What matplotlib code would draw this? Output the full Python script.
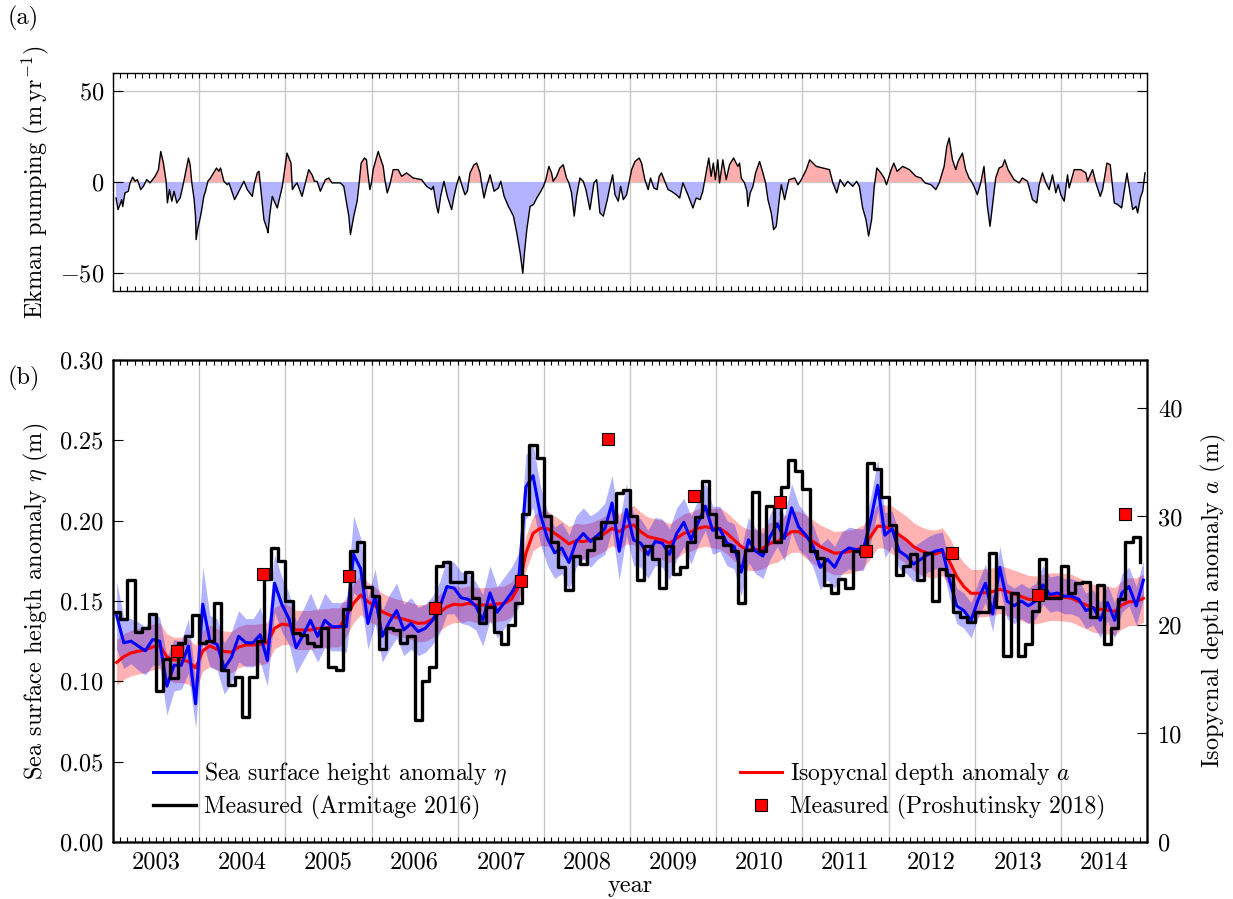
import numpy as np
import matplotlib
matplotlib.use("Agg")
import matplotlib.pyplot as plt

plt.rcParams.update({
    "font.family": "serif",
    "font.serif": ["cmr10"],
    "mathtext.fontset": "cm",
    "axes.formatter.use_mathtext": True,
    "font.size": 17.5,
    "axes.linewidth": 1.0,
})

# ---------------- data ----------------
years = list(range(2003, 2015))
year_labels = [str(y) for y in years]

# Ekman pumping (m/yr): (month within year, value)
ekman_2003 = [(0.42,-8.8),(0.70,-15.2),(0.98,-12.4),(1.21,-9.7),(1.35,-13.5),(1.67,-6.0),(2.14,-5.1),(2.37,-0.5),(2.74,2.7),(3.07,0.4),(3.40,1.3),(3.86,-4.2),(4.23,-2.4),(4.70,1.3),(5.16,-0.5),(5.86,3.1),(6.33,6.8),(6.65,16.8),(7.02,10.4),(7.40,0.4),(7.58,-11.5),(7.86,-4.2),(8.19,-10.6),(8.51,-5.1),(8.88,-11.5),(9.35,-8.8),(9.72,-2.4),(10.19,6.8),(10.51,13.2),(10.74,9.5),(10.98,-0.5),(11.30,-9.7),(11.49,-18.8),(11.58,-31.7),(11.77,-26.3)]
ekman_2004 = [(0.09,-20.7),(0.28,-17.0),(0.65,-7.9),(0.88,-5.1),(1.21,0.4),(1.58,2.2),(2.42,7.7),(2.74,5.9),(2.98,7.7),(3.44,0.4),(3.91,-1.5),(4.14,-0.5),(4.47,-4.2),(4.93,-9.7),(5.30,-7.0),(6.00,-1.5),(6.23,0.4),(6.70,-4.2),(7.40,-7.9),(7.72,-0.5),(8.09,5.0),(8.33,5.9),(8.79,-11.5),(9.02,-20.7),(9.49,-26.2),(9.58,-28.0),(9.86,-17.0),(10.19,-7.9),(10.56,-11.5),(10.88,-14.3),(11.26,-7.9),(11.58,-2.4),(11.91,6.8)]
ekman_2005 = [(0.23,15.9),(0.60,12.2),(0.79,10.4),(0.98,-4.2),(1.26,-2.4),(1.63,-0.5),(2.33,-7.9),(2.79,-0.5),(3.26,6.8),(3.72,4.0),(4.05,0.4),(4.42,0.4),(4.88,-5.1),(5.58,1.3),(6.05,2.2),(6.51,-0.5),(7.67,-0.5),(8.14,-2.4),(8.60,-13.4),(8.84,-18.8),(9.07,-28.9),(9.53,-18.8),(10.00,-10.6),(10.23,-2.4),(10.56,10.4),(11.02,13.2),(11.30,12.2),(11.49,4.9),(11.77,-4.2)]
ekman_2006 = [(0.00,-0.5),(0.23,6.8),(0.93,16.8),(1.16,14.1),(1.63,8.6),(1.86,1.3),(2.19,-6.0),(2.56,-1.5),(3.02,6.8),(3.72,6.8),(4.19,3.1),(4.88,5.0),(5.81,2.2),(6.98,1.3),(7.67,-2.4),(8.37,-4.2),(8.60,-2.4),(9.07,-13.4),(9.30,-17.0),(9.63,-7.9),(10.09,0.4),(10.56,-7.9),(11.16,-15.2),(11.49,-7.9),(11.86,-1.5)]
ekman_2007 = [(0.23,3.1),(0.56,-1.5),(1.02,-7.0),(1.35,-5.1),(1.72,5.0),(2.28,9.5),(2.65,10.4),(3.12,5.0),(3.35,-1.5),(3.67,-8.8),(4.05,-2.4),(4.51,4.0),(5.07,-5.1),(5.67,-3.3),(6.00,0.4),(6.47,-7.9),(7.07,-13.4),(7.77,-18.8),(8.23,-28.0),(8.70,-39.0),(9.07,-50.3),(9.30,-39.0),(9.63,-26.2),(10.09,-13.4),(10.56,-12.4),(11.02,-8.8),(11.58,-5.1),(11.95,-2.4)]
ekman_2008 = [(0.28,1.3),(0.70,8.6),(1.07,5.0),(1.30,0.4),(1.77,3.1),(2.23,7.7),(2.70,9.5),(3.16,2.2),(3.49,-0.5),(3.86,-6.0),(4.23,-18.8),(4.56,-7.9),(5.02,2.2),(5.49,0.4),(5.86,-4.2),(6.42,-15.2),(6.98,-0.5),(7.35,1.3),(7.81,-17.0),(8.28,-18.8),(8.84,-9.7),(9.21,-2.4),(9.58,4.0),(9.91,-7.0),(10.37,-10.6),(10.70,-2.4),(11.07,-9.7),(11.53,-7.0),(11.91,0.4)]
ekman_2009 = [(0.23,6.8),(0.69,11.3),(1.29,13.2),(1.61,10.4),(2.07,1.3),(2.53,-4.2),(2.86,2.2),(3.32,-3.3),(3.78,-4.2),(4.06,3.1),(4.38,5.0),(4.84,0.4),(5.30,-4.2),(5.76,-5.1),(6.45,-7.0),(6.92,-8.8),(7.37,-0.5),(8.06,-7.0),(8.76,-14.3),(9.22,-8.8),(9.77,-9.7),(10.14,-5.1),(10.51,3.1),(10.97,13.2),(11.29,3.1),(11.61,10.4),(11.89,1.3)]
ekman_2010 = [(0.23,12.2),(0.47,-0.5),(0.93,12.2),(1.40,1.3),(1.86,9.5),(2.42,13.2),(3.02,8.6),(3.26,10.4),(3.49,2.2),(3.95,-0.5),(4.28,-5.1),(4.42,-13.4),(4.74,-6.0),(5.12,-2.4),(5.49,5.0),(6.05,11.3),(6.51,5.0),(6.88,-0.5),(7.21,-9.7),(7.67,-17.0),(8.00,-26.2),(8.37,-24.4),(8.84,-7.9),(9.07,-1.5),(9.53,-9.7),(10.14,1.3),(10.93,2.2),(11.40,-1.5),(11.86,1.3)]
ekman_2011 = [(0.55,6.8),(1.02,12.2),(1.48,10.4),(1.94,8.6),(2.86,7.7),(3.78,6.8),(4.25,-0.5),(4.80,-6.0),(5.26,1.3),(5.86,-2.4),(6.32,0.4),(7.02,-2.4),(7.57,0.4),(7.94,-2.4),(8.40,-14.3),(8.86,-20.7),(9.23,-29.8),(9.65,-20.7),(10.02,-2.4),(10.38,7.7),(10.94,5.0),(11.40,2.2),(11.72,-1.5)]
ekman_2012 = [(0.37,6.8),(0.74,10.4),(1.20,5.9),(1.98,8.6),(2.91,6.8),(3.83,3.1),(4.52,2.2),(5.08,-0.5),(5.91,-1.5),(6.60,-4.2),(7.06,-0.5),(7.75,8.6),(8.12,19.6),(8.45,24.2),(8.91,12.2),(9.37,6.8),(9.69,11.3),(10.29,15.9),(10.75,6.8),(11.22,2.2),(11.54,0.4),(11.91,-2.4)]
ekman_2013 = [(0.37,-7.0),(0.84,-0.5),(1.30,8.6),(1.77,-13.4),(2.14,-24.4),(2.47,-13.4),(2.93,2.2),(3.40,7.7),(3.86,8.6),(4.19,12.2),(4.65,6.8),(5.49,1.3),(6.19,-0.5),(6.65,2.2),(7.35,0.4),(8.05,-9.7),(8.65,-11.5),(8.98,-1.5),(9.44,5.0),(9.91,-0.5),(10.37,-4.2),(10.84,4.0),(11.30,-6.0),(11.63,-1.5)]
ekman_2014 = [(0.00,-7.0),(0.47,-10.6),(0.93,4.0),(1.16,-3.3),(1.86,6.8),(2.79,6.8),(3.49,5.0),(3.72,0.4),(4.42,6.8),(4.88,-0.5),(5.49,-7.9),(5.81,-4.2),(6.42,10.4),(6.88,9.5),(7.44,-11.5),(7.91,-12.4),(8.47,-14.3),(9.21,4.9),(10.00,-15.2),(10.47,-13.4),(10.70,-17.0),(11.07,-8.8),(11.40,-5.1),(11.72,5.0)]

# Monthly sea surface height anomaly eta (m), Jan 2003 - Dec 2014
ssh_eta = [
    0.141, 0.124, 0.125, 0.122, 0.119, 0.126, 0.125, 0.097, 0.110, 0.110, 0.122, 0.086,
    0.148, 0.125, 0.123, 0.108, 0.115, 0.128, 0.124, 0.124, 0.129, 0.113, 0.161, 0.148,
    0.139, 0.121, 0.129, 0.138, 0.128, 0.138, 0.134, 0.134, 0.134, 0.179, 0.170, 0.136,
    0.153, 0.128, 0.137, 0.144, 0.132, 0.136, 0.131, 0.133, 0.138, 0.146, 0.159, 0.158,
    0.152, 0.151, 0.147, 0.138, 0.155, 0.143, 0.149, 0.155, 0.163, 0.221, 0.228, 0.204,
    0.189, 0.180, 0.183, 0.174, 0.187, 0.192, 0.187, 0.191, 0.195, 0.211, 0.181, 0.207,
    0.188, 0.186, 0.179, 0.187, 0.186, 0.179, 0.192, 0.199, 0.188, 0.199, 0.209, 0.194,
    0.195, 0.186, 0.184, 0.168, 0.188, 0.181, 0.178, 0.190, 0.198, 0.189, 0.208, 0.196,
    0.191, 0.184, 0.171, 0.176, 0.171, 0.180, 0.183, 0.182, 0.182, 0.200, 0.222, 0.191,
    0.195, 0.181, 0.178, 0.173, 0.176, 0.179, 0.181, 0.182, 0.163, 0.147, 0.144, 0.138,
    0.151, 0.161, 0.142, 0.171, 0.150, 0.147, 0.150, 0.147, 0.150, 0.160, 0.154, 0.155,
    0.153, 0.153, 0.151, 0.144, 0.146, 0.138, 0.149, 0.138, 0.155, 0.159, 0.147, 0.163,
]
ssh_halfwidth = [
    0.021, 0.016, 0.014, 0.015, 0.015, 0.016, 0.015, 0.018, 0.016, 0.015, 0.017, 0.015,
    0.023, 0.016, 0.016, 0.016, 0.016, 0.016, 0.015, 0.015, 0.017, 0.016, 0.018, 0.017,
    0.016, 0.016, 0.016, 0.017, 0.016, 0.017, 0.015, 0.015, 0.016, 0.024, 0.019, 0.016,
    0.017, 0.016, 0.017, 0.017, 0.016, 0.016, 0.015, 0.015, 0.015, 0.016, 0.017, 0.016,
    0.016, 0.016, 0.015, 0.016, 0.017, 0.016, 0.016, 0.016, 0.017, 0.020, 0.020, 0.018,
    0.017, 0.016, 0.016, 0.017, 0.016, 0.016, 0.016, 0.015, 0.016, 0.017, 0.018, 0.016,
    0.016, 0.015, 0.015, 0.015, 0.015, 0.016, 0.016, 0.015, 0.015, 0.014, 0.015, 0.015,
    0.014, 0.014, 0.014, 0.015, 0.014, 0.014, 0.014, 0.014, 0.014, 0.014, 0.015, 0.014,
    0.013, 0.013, 0.014, 0.013, 0.013, 0.013, 0.013, 0.013, 0.013, 0.014, 0.016, 0.014,
    0.011, 0.011, 0.011, 0.011, 0.011, 0.011, 0.011, 0.011, 0.011, 0.011, 0.011, 0.011,
    0.011, 0.012, 0.011, 0.013, 0.011, 0.011, 0.011, 0.011, 0.011, 0.012, 0.011, 0.011,
    0.011, 0.011, 0.011, 0.011, 0.011, 0.011, 0.011, 0.011, 0.012, 0.012, 0.012, 0.012,
]
# Measured (Armitage 2016), monthly steps starting at each month (m)
armitage_eta = [
    0.143, 0.139, 0.163, 0.131, 0.133, 0.142, 0.094, 0.114, 0.102, 0.124, 0.128, 0.141,
    0.124, 0.125, 0.149, 0.107, 0.098, 0.103, 0.078, 0.103, 0.125, 0.164, 0.183, 0.175,
    0.150, 0.130, 0.129, 0.124, 0.122, 0.133, 0.109, 0.107, 0.145, 0.181, 0.187, 0.159,
    0.153, 0.120, 0.133, 0.132, 0.124, 0.128, 0.076, 0.100, 0.109, 0.172, 0.174, 0.162,
    0.162, 0.168, 0.152, 0.136, 0.146, 0.131, 0.123, 0.135, 0.149, 0.204, 0.247, 0.239,
    0.203, 0.187, 0.171, 0.157, 0.178, 0.173, 0.182, 0.189, 0.199, 0.199, 0.217, 0.219,
    0.203, 0.163, 0.184, 0.176, 0.158, 0.184, 0.167, 0.171, 0.187, 0.202, 0.225, 0.204,
    0.190, 0.185, 0.181, 0.149, 0.182, 0.218, 0.181, 0.209, 0.187, 0.221, 0.238, 0.231,
    0.220, 0.181, 0.177, 0.160, 0.155, 0.164, 0.158, 0.181, 0.179, 0.236, 0.232, 0.215,
    0.197, 0.166, 0.172, 0.179, 0.163, 0.180, 0.150, 0.170, 0.166, 0.143, 0.140, 0.137,
    0.143, 0.143, 0.180, 0.146, 0.116, 0.155, 0.116, 0.123, 0.144, 0.176, 0.152, 0.152,
    0.172, 0.155, 0.161, 0.162, 0.140, 0.160, 0.123, 0.133, 0.151, 0.187, 0.190, 0.174,
]
# Isopycnal depth anomaly a (m), monthly
isopycnal_a = [
    16.55, 17.08, 17.42, 17.58, 17.70, 17.97, 18.11, 17.08, 16.77, 16.80, 16.63, 16.05,
    17.62, 18.08, 17.74, 17.55, 17.50, 17.97, 18.16, 18.16, 18.23, 18.38, 19.70, 20.08,
    20.00, 19.54, 19.54, 19.54, 19.69, 19.69, 19.78, 19.78, 20.77, 22.00, 22.76, 22.15,
    21.77, 21.23, 20.92, 20.69, 20.54, 20.35, 20.15, 20.20, 20.54, 21.15, 21.66, 21.92,
    21.84, 22.00, 21.84, 21.84, 21.84, 21.94, 22.00, 22.37, 23.53, 26.60, 28.45, 28.91,
    28.88, 28.45, 27.99, 27.47, 27.77, 27.68, 27.83, 28.08, 28.45, 28.91, 28.60, 29.06,
    29.22, 28.60, 28.14, 27.99, 27.83, 27.53, 27.99, 28.45, 28.60, 28.91, 29.06, 28.91,
    28.91, 28.45, 27.83, 27.22, 26.91, 26.91, 27.07, 27.53, 27.68, 28.14, 28.60, 28.60,
    28.14, 27.68, 27.22, 26.91, 26.61, 26.67, 26.76, 26.91, 27.22, 28.14, 29.12, 29.06,
    28.76, 28.29, 27.83, 27.22, 26.85, 26.61, 26.54, 26.76, 25.84, 24.46, 23.53, 22.92,
    22.92, 22.98, 23.07, 23.29, 23.07, 22.86, 22.61, 22.37, 22.30, 22.46, 22.61, 22.61,
    22.55, 22.46, 22.15, 21.84, 21.54, 21.45, 21.38, 21.23, 21.84, 22.15, 22.15, 22.46,
]
isopycnal_halfwidth = [
    2.1, 2.1, 2.1, 2.1, 2.1, 2.1, 2.1, 2.1, 2.1, 2.1, 2.1, 2.1,
    1.9, 1.9, 1.9, 1.9, 1.9, 1.9, 1.9, 1.9, 1.9, 1.9, 1.9, 1.9,
    1.8, 1.8, 1.8, 1.8, 1.8, 1.8, 1.8, 1.8, 1.8, 1.8, 1.8, 1.8,
    1.7, 1.7, 1.7, 1.7, 1.7, 1.7, 1.7, 1.7, 1.7, 1.7, 1.7, 1.7,
    1.6, 1.6, 1.6, 1.6, 1.6, 1.6, 1.6, 1.6, 1.6, 1.6, 1.6, 1.6,
    1.6, 1.6, 1.6, 1.6, 1.6, 1.6, 1.6, 1.6, 1.6, 1.6, 1.6, 1.6,
    1.8, 1.8, 1.8, 1.8, 1.8, 1.8, 1.8, 1.8, 1.8, 1.8, 1.8, 1.8,
    1.9, 1.9, 1.9, 1.9, 1.9, 1.9, 1.9, 1.9, 1.9, 1.9, 1.9, 1.9,
    2.0, 2.0, 2.0, 2.0, 2.0, 2.0, 2.0, 2.0, 2.0, 2.0, 2.0, 2.0,
    2.2, 2.2, 2.2, 2.2, 2.2, 2.2, 2.2, 2.2, 2.2, 2.2, 2.2, 2.2,
    2.2, 2.2, 2.2, 2.2, 2.2, 2.2, 2.2, 2.2, 2.2, 2.2, 2.2, 2.2,
    2.2, 2.2, 2.2, 2.2, 2.2, 2.2, 2.2, 2.2, 2.2, 2.2, 2.2, 2.2,
]
# Measured (Proshutinsky 2018)
prosh_time = [2003.74, 2004.74, 2005.74, 2006.74, 2007.74, 2008.74,
              2009.74, 2010.74, 2011.74, 2012.74, 2013.74, 2014.74]
prosh_a = [17.6, 24.7, 24.5, 21.6, 24.05, 37.1, 31.9, 31.3, 26.8, 26.6, 22.8, 30.2]

# ---------------- derived ----------------
ekman_sets = [(2003, ekman_2003), (2004, ekman_2004), (2005, ekman_2005), (2006, ekman_2006),
              (2007, ekman_2007), (2008, ekman_2008), (2009, ekman_2009), (2010, ekman_2010),
              (2011, ekman_2011), (2012, ekman_2012), (2013, ekman_2013), (2014, ekman_2014)]
t_ek = np.array([yr + m / 12.0 for yr, s in ekman_sets for m, v in s])
v_ek = np.array([v for yr, s in ekman_sets for m, v in s])

n = len(ssh_eta)
t_mid = 2003 + (np.arange(n) + 0.5) / 12.0
t_start = 2003 + np.arange(n) / 12.0
eta = np.array(ssh_eta)
eta_hw = np.array(ssh_halfwidth)
a_val = np.array(isopycnal_a)
a_hw = np.array(isopycnal_halfwidth)

month_ticks = 2003 + np.arange(0, 145) / 12.0
year_bounds = list(range(2004, 2015))
GRID = "#c8c8c8"
XMIN, XMAX = 2003, 2015
A_TOP = 44.42

# ---------------- figure ----------------
fig = plt.figure(figsize=(12.33, 8.99), dpi=100)
L, W = 113 / 1233, 1034 / 1233
axa = fig.add_axes([L, (899 - 291) / 899, W, 218 / 899])
axb = fig.add_axes([L, (899 - 842) / 899, W, 482 / 899])

# ---- panel (a)
axa.set_xlim(XMIN, XMAX)
axa.set_ylim(-60, 60)
for yb in year_bounds:
    axa.axvline(yb, color=GRID, lw=1.0, zorder=0)
for yv in (-50, 0, 50):
    axa.axhline(yv, color=GRID, lw=1.0, zorder=0)
axa.fill_between(t_ek, v_ek, 0, where=v_ek >= 0, interpolate=True,
                 facecolor=(1.0, 0.68, 0.68), lw=0, zorder=1)
axa.fill_between(t_ek, v_ek, 0, where=v_ek <= 0, interpolate=True,
                 facecolor=(0.7, 0.7, 1.0), lw=0, zorder=1)
axa.plot(t_ek, v_ek, color="black", lw=1.0, zorder=2)
axa.set_yticks([-50, 0, 50])
axa.set_yticklabels(["$-50$", "$0$", "$50$"])
axa.set_xticks(month_ticks)
axa.tick_params(axis="x", which="both", direction="in", top=True, bottom=True,
                length=3.5, width=0.8, labelbottom=False)
axa.tick_params(axis="y", direction="in", left=True, right=True, length=7, width=0.8, pad=6)
axa.set_ylabel(r"Ekman pumping ($\mathrm{m\,yr^{-1}}$)")
axa.yaxis.set_label_coords(-0.060, 0.5)

# ---- panel (b): layered axes sharing x
ax_rbg = axb.twinx()
ax_rfg = axb.twinx()
ax_eta = axb.twinx()
ax_sq = axb.twinx()
for z, ax in enumerate([ax_rbg, axb, ax_rfg, ax_eta, ax_sq]):
    ax.set_zorder(z + 1)
    ax.patch.set_visible(False)

axb.set_xlim(XMIN, XMAX)
for ax in (axb, ax_eta):
    ax.set_ylim(0, 0.30)
for ax in (ax_rbg, ax_rfg, ax_sq):
    ax.set_ylim(0, A_TOP)

for yb in year_bounds:
    ax_rbg.axvline(yb, color=GRID, lw=1.0, zorder=0)

ax_rbg.fill_between(t_mid, a_val - a_hw, a_val + a_hw, color="red", alpha=0.3, lw=0)
axb.fill_between(t_mid, eta - eta_hw, eta + eta_hw, color="blue", alpha=0.3, lw=0)
h_red, = ax_rfg.plot(t_mid, a_val, color="red", lw=2.2)
h_blue, = ax_eta.plot(t_mid, eta, color="blue", lw=2.2, zorder=2)
h_black, = ax_eta.step(t_start, armitage_eta, where="post", color="black", lw=2.4, zorder=3)
h_sq, = ax_sq.plot(prosh_time, prosh_a, ls="none", marker="s", ms=8,
                   mfc="red", mec="black", mew=0.8)

for ax in (ax_rbg, ax_rfg, ax_eta):
    ax.tick_params(axis="y", which="both", left=False, right=False,
                   labelleft=False, labelright=False)

axb.yaxis.tick_left()
axb.set_yticks([0, 0.05, 0.10, 0.15, 0.20, 0.25, 0.30])
axb.set_yticklabels(["0.00", "0.05", "0.10", "0.15", "0.20", "0.25", "0.30"])
axb.tick_params(axis="y", direction="in", left=True, right=False, length=7, width=0.8, pad=7)

ax_sq.set_yticks([0, 10, 20, 30, 40])
ax_sq.set_yticklabels(["0", "10", "20", "30", "40"])
ax_sq.tick_params(axis="y", direction="in", right=True, left=False, length=7, width=0.8, pad=8)

axb.set_xticks([y + 0.5 for y in years])
axb.set_xticklabels(year_labels)
axb.set_xticks(month_ticks, minor=True)
axb.tick_params(axis="x", which="both", direction="in", top=True, bottom=True,
                length=3.5, width=0.8, pad=7, labeltop=False)

axb.set_ylabel(r"Sea surface heigth anomaly $\eta$ (m)")
axb.yaxis.set_label_coords(-0.060, 0.5)
ax_sq.set_ylabel(r"Isopycnal depth anomaly $a$ (m)")
ax_sq.yaxis.set_label_coords(1.050, 0.5)
axb.set_xlabel("year")
axb.xaxis.set_label_coords(0.5, -0.068)

leg_kw = dict(loc="lower left", frameon=False, borderpad=0, borderaxespad=0,
              handlelength=1.8, handletextpad=0.35, labelspacing=0.32, fontsize=17)
leg1 = ax_sq.legend([h_blue, h_black],
                    [r"Sea surface height anomaly $\eta$", "Measured (Armitage 2016)"],
                    bbox_to_anchor=(0.0387, 0.046), **leg_kw)
ax_sq.add_artist(leg1)
ax_sq.legend([h_red, h_sq],
             [r"Isopycnal depth anomaly $a$", "Measured (Proshutinsky 2018)"],
             bbox_to_anchor=(0.606, 0.046), **leg_kw)

fig.text(0.006, 1 - 18 / 899, "(a)", va="center", ha="left", fontsize=17.5)
fig.text(0.006, 1 - 378 / 899, "(b)", va="center", ha="left", fontsize=17.5)

fig.savefig("out.png", dpi=100)
